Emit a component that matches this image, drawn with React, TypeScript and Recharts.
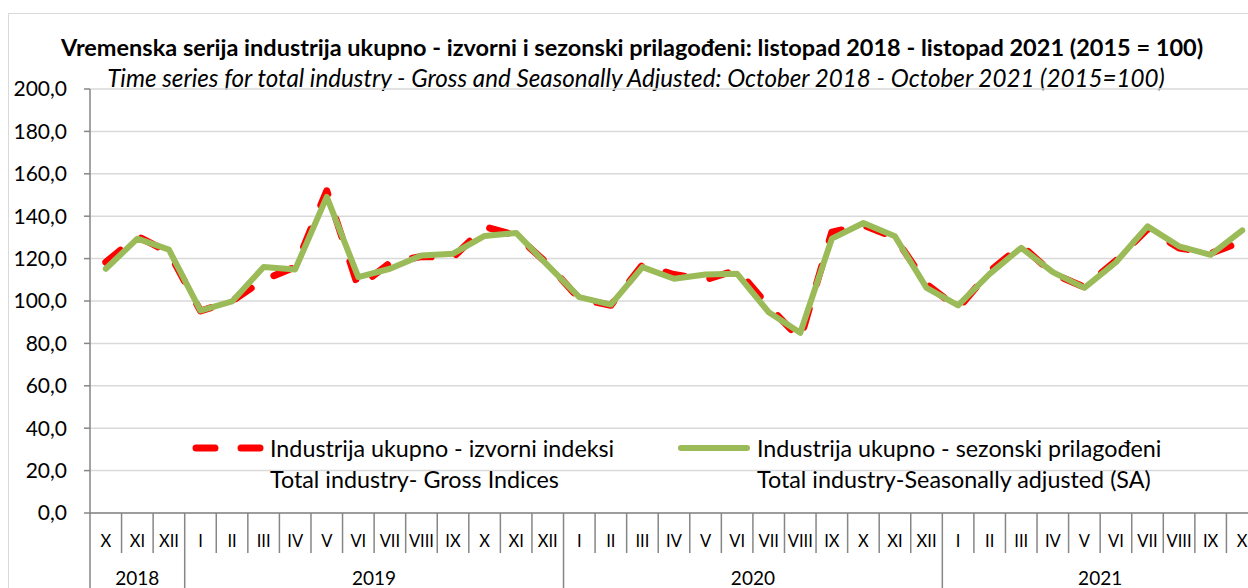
import React from 'react';
import { LineChart, Line, XAxis, YAxis, CartesianGrid, Legend } from 'recharts';

const months = ['X','XI','XII','I','II','III','IV','V','VI','VII','VIII','IX','X','XI','XII','I','II','III','IV','V','VI','VII','VIII','IX','X','XI','XII','I','II','III','IV','V','VI','VII','VIII','IX','X'];
const years = ['2018','2018','2018','2019','2019','2019','2019','2019','2019','2019','2019','2019','2019','2019','2019','2020','2020','2020','2020','2020','2020','2020','2020','2020','2020','2020','2020','2021','2021','2021','2021','2021','2021','2021','2021','2021','2021'];
const gross = [118.3,130.5,123,95.3,100,110,116,152,106.5,118,121,120.5,135,131,117.5,101,98,117,112.5,110,114.7,97.5,82,132.5,135.7,130,108,96.5,114,126.2,113,106.5,119,134,125,122.5,128];
const sa = [115.2,129.4,124.2,95.5,99.8,116,114.9,149.1,111.3,115.2,121.5,122.3,130.7,132.1,116.8,101.8,98.3,116,110.5,112.5,112.8,94.7,85,129.4,136.8,130.5,106.2,97.9,112.8,125.1,113.6,106.2,118.3,135.2,125.8,121.8,133.3];
const yTicks = [0,20,40,60,80,100,120,140,160,180,200];
const grossName = ['Industrija ukupno - izvorni indeksi', 'Total industry- Gross Indices'];
const saName = ['Industrija ukupno - sezonski prilagođeni', 'Total industry-Seasonally adjusted (SA)'];
const titleText = 'Vremenska serija industrija ukupno - izvorni i sezonski prilagođeni: listopad 2018 - listopad 2021 (2015 = 100)';
const subtitleText = 'Time series for total industry - Gross and Seasonally Adjusted: October 2018 - October 2021 (2015=100)';

const data = months.map((m, i) => ({ key: years[i] + '-' + m + '-' + i, month: m, year: years[i], gross: gross[i], sa: sa[i] }));

const FONT = 'Lato, "Open Sans", sans-serif';
const CHART_W = 1270;
const CHART_H = 588;
const LEFT = 90;
const RIGHT_EDGE = 1258;
const PLOT_W = RIGHT_EDGE - LEFT;
const BW = PLOT_W / months.length;
const AXIS_Y = 513;
const GRAY = '#868686';

const MonthTick = (props: any) => {
  const { x, index } = props;
  const i = index as number;
  const isYearStart = i === 0 || years[i] !== years[i - 1];
  let len = 0;
  if (isYearStart) {
    for (let j = i; j < years.length && years[j] === years[i]; j++) len++;
  }
  const isLast = i === months.length - 1;
  return (
    <g>
      <line x1={x - BW / 2} x2={x - BW / 2} y1={AXIS_Y} y2={isYearStart ? CHART_H : 553} stroke={GRAY} strokeWidth={1.5} />
      {isLast && <line x1={x + BW / 2} x2={x + BW / 2} y1={AXIS_Y} y2={CHART_H} stroke={GRAY} strokeWidth={1.5} />}
      <text x={x} y={547} textAnchor="middle" fontSize={16.5} fontFamily={FONT} fill="#000">{months[i]}</text>
      {isYearStart && (
        <text x={x + ((len - 1) / 2) * BW} y={585} textAnchor="middle" fontSize={19} fontFamily={FONT} fill="#000">{years[i]}</text>
      )}
    </g>
  );
};

const LegendContent = () => (
  <svg width={1248} height={70} style={{ display: 'block' }}>
    <line x1={196} x2={260} y1={23} y2={23} stroke="#FF0000" strokeWidth={7} strokeDasharray="19 26" strokeLinecap="round" />
    <text x={270} y={31.5} fontSize={23.3} fontFamily={FONT} fill="#000">{grossName[0]}</text>
    <text x={270} y={63} fontSize={23.3} fontFamily={FONT} fill="#000">{grossName[1]}</text>
    <line x1={681} x2={747} y1={23} y2={23} stroke="#9BBB59" strokeWidth={6} strokeLinecap="round" />
    <text x={757} y={31.5} fontSize={23.3} fontFamily={FONT} fill="#000">{saName[0]}</text>
    <text x={757} y={63} fontSize={23.3} fontFamily={FONT} fill="#000">{saName[1]}</text>
  </svg>
);

export default function App() {
  return (
    <div style={{ position: 'absolute', left: 0, top: 0, width: 1248, height: 588, overflow: 'hidden', background: '#fff' }}>
      <div style={{ position: 'absolute', left: 8, top: 13, width: 1400, height: 800, border: '1px solid #d9d9d9' }} />
      <svg width={1248} height={100} style={{ position: 'absolute', left: 0, top: 0 }}>
        <text x={632} y={56} textAnchor="middle" fontSize={23.5} fontWeight={700} fontFamily={FONT} fill="#000">{titleText}</text>
        <text x={636} y={87} textAnchor="middle" fontSize={24.2} fontStyle="italic" fontFamily={FONT} fill="#000">{subtitleText}</text>
      </svg>
      <div style={{ position: 'absolute', left: 0, top: 0 }}>
        <LineChart width={CHART_W} height={CHART_H} data={data} margin={{ top: 89, right: CHART_W - RIGHT_EDGE, bottom: 0, left: 0 }}>
          <CartesianGrid vertical={false} stroke="#d9d9d9" strokeWidth={1.5} />
          <XAxis
            dataKey="key"
            interval={0}
            height={75}
            padding={{ left: BW / 2, right: BW / 2 }}
            axisLine={{ stroke: GRAY, strokeWidth: 1.5 }}
            tickLine={false}
            tick={<MonthTick />}
          />
          <YAxis
            domain={[0, 200]}
            ticks={yTicks}
            width={LEFT}
            tickSize={6}
            tickMargin={17}
            axisLine={{ stroke: GRAY, strokeWidth: 1.5 }}
            tickLine={{ stroke: GRAY, strokeWidth: 1.5 }}
            tick={{ fontSize: 21, fontFamily: FONT, fill: '#000' }}
            tickFormatter={(v: number) => v.toFixed(1).replace('.', ',')}
          />
          <Legend
            layout="horizontal"
            verticalAlign="middle"
            align="center"
            content={<LegendContent />}
            wrapperStyle={{ position: 'absolute', top: 425, left: 0, width: 1248, height: 70 }}
          />
          <Line type="linear" dataKey="gross" name={grossName[0]} stroke="#FF0000" strokeWidth={7} strokeDasharray="19 26" strokeLinecap="round" strokeLinejoin="round" dot={false} isAnimationActive={false} />
          <Line type="linear" dataKey="sa" name={saName[0]} stroke="#9BBB59" strokeWidth={6} strokeLinejoin="round" strokeLinecap="round" dot={false} isAnimationActive={false} />
        </LineChart>
      </div>
    </div>
  );
}
